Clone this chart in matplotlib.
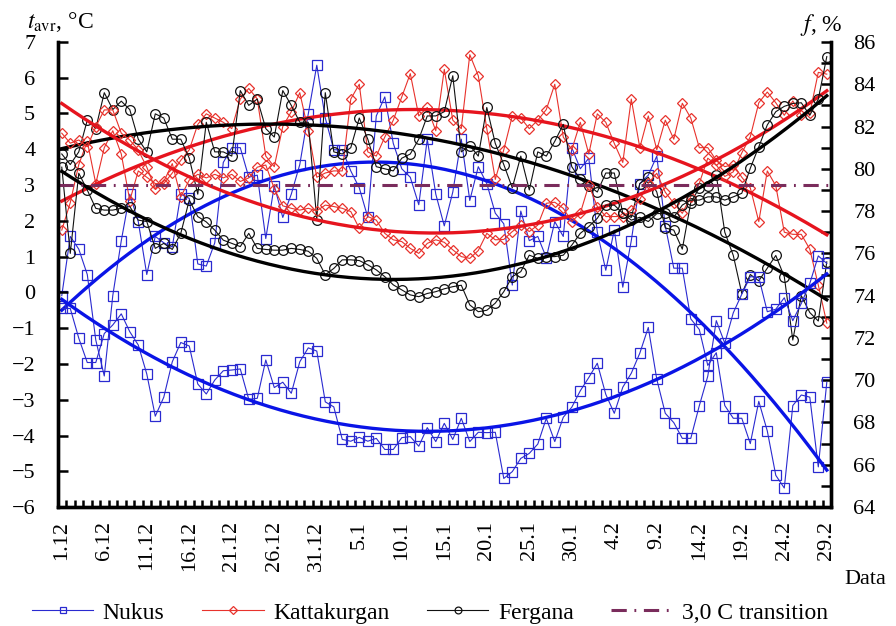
import numpy as np
import matplotlib
matplotlib.use("Agg")
import matplotlib.pyplot as plt
from matplotlib.ticker import MultipleLocator, FixedLocator

plt.rcParams['font.family'] = ['Liberation Serif', 'DejaVu Serif']
plt.rcParams['mathtext.fontset'] = 'stix'

# day index 0..90 = 1.12 .. 29.2
tick_labels = ["1.12", "6.12", "11.12", "16.12", "21.12", "26.12", "31.12",
               "5.1", "10.1", "15.1", "20.1", "25.1", "30.1",
               "4.2", "9.2", "14.2", "19.2", "24.2", "29.2"]

# average air temperature, C (left axis)
nukus_t = [-0.45, -0.45, -1.28, -1.96, -1.96, -1.15, -0.91, -0.6, -1.1, -1.47,
           -2.28, -3.46, -2.93, -1.94, -1.40, -1.5, -2.56, -2.84, -2.45, -2.19,
           -2.17, -2.14, -2.99, -2.96, -1.89, -2.66, -2.51, -2.82, -1.94, -1.55,
           -1.64, -3.06, -3.2, -4.11, -4.16, -4.05, -4.16, -4.08, -4.39, -4.39,
           -4.06, -4.03, -4.3, -3.78, -4.17, -3.66, -4.11, -3.52, -4.17, -3.91,
           -3.92, -3.91, -5.2, -5.01, -4.64, -4.5, -4.24, -3.52, -4.17, -3.49,
           -3.21, -2.75, -2.38, -1.98, -2.85, -3.38, -2.65, -2.26, -1.7, -0.98,
           -2.43, -3.38, -3.64, -4.08, -4.08, -3.17, -2.34, -0.79, -1.42, -0.57,
           -0.05, 0.44, 0.42, -0.54, -0.47, -0.15, -0.79, -0.31, 0.25, 1.02,
           0.81]
katta_t = [4.45, 4.17, 4.26, 4.07, 4.63, 5.1, 5.1, 4.45, 4.26, 3.98,
           3.5, 2.9, 3.1, 3.6, 2.67, 3.14, 3.3, 3.2, 3.3, 3.2,
           3.3, 3.1, 3.2, 3.5, 3.56, 2.9, 2.42, 2.35, 2.3, 2.35,
           2.28, 2.44, 2.4, 2.35, 2.26, 1.79, 2.12, 2.02, 1.65, 1.47,
           1.42, 1.23, 1.09, 1.37, 1.47, 1.4, 1.19, 1.0, 0.95, 1.17,
           1.65, 1.47, 1.48, 1.7, 1.88, 1.7, 1.88, 2.49, 2.52, 2.35,
           1.98, 2.21, 3.0, 2.4, 2.12, 2.12, 2.12, 2.3, 2.6, 3.05,
           3.33, 2.8, 2.49, 2.21, 2.68, 3.05, 3.75, 3.56, 3.24, 3.37,
           3.9, 4.35, 5.3, 5.6, 5.3, 4.95, 5.35, 4.95, 5.0, 6.15,
           6.1]
ferg_t = [3.5, 1.09, 3.33, 2.86, 2.35, 2.3, 2.3, 2.35, 2.4, 2.02,
          1.98, 1.23, 1.37, 1.2, 1.65, 2.58, 2.12, 1.97, 1.74, 1.46,
          1.37, 1.28, 1.65, 1.23, 1.2, 1.18, 1.18, 1.23, 1.2, 1.15,
          0.95, 0.49, 0.67, 0.91, 0.91, 0.89, 0.77, 0.63, 0.44, 0.21,
          0.07, -0.07, -0.12, -0.03, 0.02, 0.1, 0.16, 0.2, -0.35, -0.54,
          -0.5, -0.3, 0.02, 0.44, 0.58, 1.04, 0.95, 1.0, 1.0, 1.04,
          1.32, 1.65, 1.84, 2.07, 2.44, 2.44, 2.21, 2.02, 2.1, 1.98,
          2.2, 2.21, 2.1, 2.44, 2.58, 2.58, 2.67, 2.67, 2.58, 2.67,
          2.77, 3.47, 4.07, 4.68, 5.05, 5.2, 5.28, 5.3, 4.95, 5.4,
          6.59]

# relative humidity, % (right axis)
nukus_f = [74.0, 76.8, 76.2, 75.0, 71.9, 70.2, 74.0, 76.6, 78.8, 77.5,
           75.0, 76.8, 76.5, 76.3, 78.8, 78.6, 75.5, 75.4, 76.5, 80.3,
           81.0, 81.0, 79.6, 79.7, 76.7, 79.2, 77.7, 78.8, 80.2, 82.6,
           84.9, 82.4, 80.9, 80.9, 79.9, 79.1, 77.7, 82.5, 83.4, 81.2,
           80.0, 79.6, 78.3, 81.4, 78.8, 77.3, 78.9, 81.4, 78.5, 80.1,
           79.3, 77.9, 77.4, 74.5, 78.0, 76.6, 76.8, 75.8, 77.5, 76.8,
           81.0, 80.0, 80.5, 77.0, 75.2, 77.1, 74.4, 76.6, 79.3, 79.7,
           80.6, 77.3, 75.3, 75.3, 72.9, 72.4, 70.7, 71.3, 68.8, 68.2,
           68.2, 67.0, 69.0, 67.6, 65.5, 64.9, 68.8, 69.3, 69.2, 65.9,
           69.9]
katta_f = [77.1, 78.4, 80.2, 81.3, 79.3, 81.0, 81.8, 80.7, 78.5, 79.9,
           79.6, 79.3, 79.3, 79.8, 80.4, 80.9, 82.1, 82.6, 82.4, 82.2,
           81.9, 83.3, 83.8, 83.3, 80.6, 80.1, 82.0, 82.7, 83.6, 81.8,
           79.6, 79.8, 79.9, 79.9, 83.3, 84.0, 80.8, 80.6, 81.5, 82.3,
           83.4, 84.5, 82.5, 82.9, 81.8, 84.7, 82.3, 81.9, 85.4, 84.4,
           81.9, 79.5, 80.9, 82.5, 82.4, 81.9, 82.3, 82.8, 84.0, 81.5,
           80.9, 82.2, 80.7, 82.6, 82.2, 81.2, 80.3, 83.3, 81.0, 82.5,
           80.9, 82.3, 81.4, 83.1, 82.4, 81.0, 81.0, 80.4, 80.1, 80.2,
           79.6, 79.1, 77.5, 79.9, 79.2, 77.0, 76.9, 76.9, 76.2, 74.5,
           72.7]
ferg_f = [80.7, 80.2, 80.8, 82.3, 81.9, 83.6, 82.8, 83.2, 82.8, 81.4,
          80.8, 82.6, 82.4, 81.4, 81.4, 80.5, 78.8, 82.2, 80.8, 80.8,
          80.6, 83.7, 83.0, 83.3, 81.9, 81.5, 83.7, 83.0, 82.2, 82.2,
          77.6, 83.6, 80.8, 80.7, 81.0, 82.4, 81.4, 80.1, 80.0, 79.9,
          80.5, 80.7, 81.4, 82.5, 82.5, 82.7, 84.4, 80.8, 81.1, 80.6,
          82.9, 81.2, 80.2, 79.1, 80.6, 79.0, 80.8, 80.6, 81.3, 82.1,
          80.1, 79.5, 79.2, 78.9, 79.8, 79.8, 77.9, 77.7, 79.3, 79.6,
          78.9, 77.2, 77.1, 76.2, 78.4, 79.1, 79.2, 79.7, 77.0, 75.9,
          74.1, 75.0, 74.7, 75.3, 75.9, 74.9, 71.9, 74.0, 73.2, 72.8,
          75.6]

transition_t = 3.0

stations = ["Nukus", "Kattakurgan", "Fergana"]
colors = ["#2a2ad0", "#e8322c", "#111111"]
trend_colors = ["#0a14e6", "#e6141e", "#000000"]
markers = ["s", "D", "o"]
msizes = [7, 5.5, 7]

days = np.arange(len(nukus_t))
xs = np.linspace(days[0], days[-1], 400)

fig = plt.figure(figsize=(8.96, 6.26), dpi=100)
ax = fig.add_axes([0.0642, 0.190, 0.8633, 0.743])
ax2 = ax.twinx()
ax.set_zorder(ax2.get_zorder() + 1)
ax.patch.set_visible(False)

handles = []
for k, (tt, ff) in enumerate([(nukus_t, nukus_f), (katta_t, katta_f), (ferg_t, ferg_f)]):
    ax2.plot(days, ff, color=colors[k], lw=0.8, marker=markers[k], ms=msizes[k],
             mfc="none", mew=0.9)
    h, = ax.plot(days, tt, color=colors[k], lw=0.8, marker=markers[k], ms=msizes[k],
                 mfc="none", mew=0.9, label=stations[k])
    handles.append(h)
    # 2nd order polynomial trend lines
    ax2.plot(xs, np.polyval(np.polyfit(days, ff, 2), xs), color=trend_colors[k], lw=2.4)
    ax.plot(xs, np.polyval(np.polyfit(days, tt, 2), xs), color=trend_colors[k], lw=2.4)

ht = ax.axhline(transition_t, color="#7a2c5c", lw=2.2, dashes=(5, 2.5, 0.6, 2.5),
                label="3,0 C transition")
handles.append(ht)

ax.set_xlim(-0.5, 90.5)
ax.set_ylim(-6, 7)
ax2.set_ylim(64, 86)

ax.yaxis.set_major_locator(MultipleLocator(1))
ax2.yaxis.set_major_locator(MultipleLocator(2))
ax2.yaxis.set_minor_locator(MultipleLocator(1))
ax.set_xticks(np.arange(0, 91, 5))
ax.set_xticklabels(tick_labels, rotation=90, fontsize=16)
ax.xaxis.set_minor_locator(FixedLocator(np.arange(0.5, 90, 1)))

ax.tick_params(axis="x", which="major", length=0, pad=10)
ax.tick_params(axis="x", which="minor", direction="in", length=5, width=1.8)
ax.tick_params(axis="y", direction="in", length=7, width=1.8, labelsize=16, pad=16)
ax2.tick_params(axis="y", which="both", direction="in", length=7, width=1.8,
                labelsize=16, pad=16)

for a in (ax, ax2):
    a.spines["top"].set_visible(False)
    for s in ("left", "right", "bottom"):
        a.spines[s].set_linewidth(2.4)

fig.text(0.030, 0.955, r"$t_{\mathrm{avr}}$, °C", fontsize=17, ha="left")
fig.text(0.893, 0.950, r"$f$, %", fontsize=17, ha="left")
fig.text(0.942, 0.067, "Data", fontsize=16, ha="left")

fig.legend(handles=handles, loc="lower center", bbox_to_anchor=(0.48, -0.03),
           ncol=4, frameon=False, fontsize=17, handlelength=2.6,
           columnspacing=1.6, handletextpad=0.4, markerscale=0.7)

fig.savefig("out.png", dpi=100)
